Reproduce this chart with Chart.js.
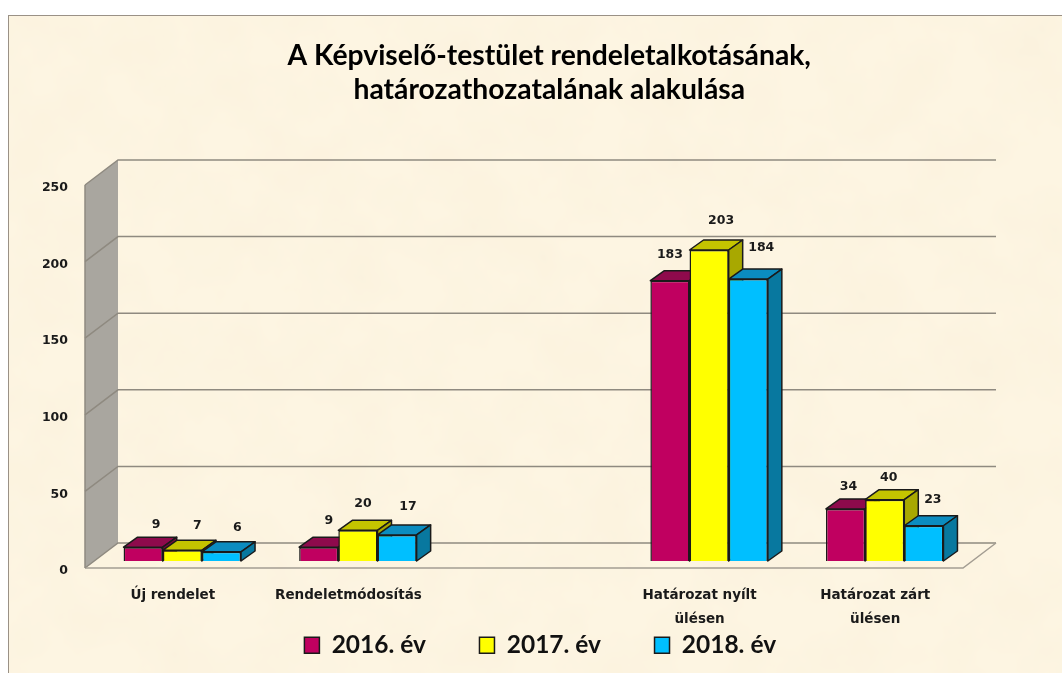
<!DOCTYPE html>
<html lang="hu">
<head>
<meta charset="utf-8">
<title>Képviselő-testület</title>
<script src="https://cdn.jsdelivr.net/npm/chart.js@4/dist/chart.umd.min.js"></script>
<style>
html, body { margin: 0; padding: 0; background: #fff; }
#paper {
	position: absolute; left: 8px; top: 15px; width: 1054px; height: 658px;
	box-sizing: border-box; border-left: 1px solid #9a9186; border-top: 1px solid #9a9186;
	background-color: #fdf5e2;
	overflow: hidden;
}
#paper svg { display: block; }
canvas { position: absolute; left: 0; top: 0; }
</style>
</head>
<body>
<div id="paper">
	<!-- parchment mottling -->
	<svg width="1054" height="658" xmlns="http://www.w3.org/2000/svg">
		<filter id="mottle" x="0" y="0" width="100%" height="100%">
			<feTurbulence type="fractalNoise" baseFrequency="0.016" numOctaves="4" seed="7"/>
			<feColorMatrix type="matrix" values="0 0 0 0 0.96  0 0 0 0 0.88  0 0 0 0 0.72  1.3 0 0 0 -0.42"/>
		</filter>
		<rect width="1054" height="658" filter="url(#mottle)"/>
	</svg>
</div>
<canvas id="myChart" width="1062" height="673"></canvas>
<script>
// chart data
var categories = ["Új rendelet", "Rendeletmódosítás", "", ["Határozat nyílt", "ülésen"], ["Határozat zárt", "ülésen"]];
var seriesNames = ["2016. év", "2017. év", "2018. év"];
var values2016 = [9, 9, null, 183, 34];
var values2017 = [7, 20, null, 203, 40];
var values2018 = [6, 17, null, 184, 23];
var yTicks = [0, 50, 100, 150, 200, 250];

var labelFont = '"DejaVu Sans", sans-serif';
var headFont = 'Lato, "Noto Sans", sans-serif';

// 3D look: floor offset of the front and back plane from the bar plane
var front = { x: -9.5, y: 7 };
var back = { x: 23.5, y: -18 };
var depth = { x: 14, y: 10 };
var topColors = ["#8e0a4c", "#c4c400", "#0b8cc0"];
var sideColors = ["#7a0840", "#a8a800", "#08789f"];

// small nudges of the value labels, per series and category
var nudge = [
	[[13, -22], [10, -26], null, [0, -26], [3, -22]],
	[[15, -25], [5, -27], null, [12, -29], [4, -22]],
	[[16, -24], [11, -28], null, [13, -31], [9, -26]]
];

function poly(ctx, pts, fill, stroke, lw) {
	ctx.beginPath();
	ctx.moveTo(pts[0][0], pts[0][1]);
	for (var i = 1; i < pts.length; i++) ctx.lineTo(pts[i][0], pts[i][1]);
	ctx.closePath();
	if (fill) { ctx.fillStyle = fill; ctx.fill(); }
	if (stroke) { ctx.strokeStyle = stroke; ctx.lineWidth = lw; ctx.stroke(); }
}

var box3d = {
	id: "box3d",
	afterLayout: function(chart) {
		// title and legend are not centred on the plot in the original
		chart.titleBlock.left += 63;
		chart.titleBlock.right += 63;
		chart.legend.left += 54;
		chart.legend.right += 54;
		chart.legend.top = 579.5;
		chart.legend.bottom = 673;
	},
	beforeDatasetsDraw: function(chart) {
		var ctx = chart.ctx, a = chart.chartArea, y = chart.scales.y;
		var left = a.left, right = a.right;
		ctx.save();
		var top = y.getPixelForValue(250), zero = y.getPixelForValue(0);
		// side wall
		poly(ctx, [
			[left + front.x, top + front.y], [left + back.x, top + back.y],
			[left + back.x, zero + back.y], [left + front.x, zero + front.y]
		], "#a9a69f");
		// grid lines on the back wall, running on to the side wall
		yTicks.forEach(function(t) {
			var p = y.getPixelForValue(t);
			ctx.beginPath();
			ctx.moveTo(left + front.x, p + front.y);
			ctx.lineTo(left + back.x, p + back.y);
			ctx.lineTo(right + back.x, p + back.y);
			ctx.strokeStyle = "#8f8a80";
			ctx.lineWidth = 1.5;
			ctx.stroke();
		});
		// floor outline
		ctx.beginPath();
		ctx.moveTo(left + front.x, zero + front.y);
		ctx.lineTo(right + front.x, zero + front.y);
		ctx.lineTo(right + back.x, zero + back.y);
		ctx.strokeStyle = "#a39d92";
		ctx.lineWidth = 1.5;
		ctx.stroke();
		ctx.beginPath();
		ctx.moveTo(left + front.x, top + front.y);
		ctx.lineTo(left + front.x, zero + front.y);
		ctx.strokeStyle = "#8f8a80";
		ctx.stroke();
		ctx.restore();

		// left to right: top and side of a bar, then its front from the library
		chart.data.datasets.forEach(function(ds, i) {
			var meta = chart.getDatasetMeta(i);
			ctx.save();
			ctx.lineJoin = "round";
			meta.data.forEach(function(el, n) {
				if (ds.data[n] == null) return;
				var l = el.x - el.width / 2, r = el.x + el.width / 2;
				poly(ctx, [[l, el.y], [l + depth.x, el.y - depth.y], [r + depth.x, el.y - depth.y], [r, el.y]],
					topColors[i], "#1a1a1a", 1.5);
				poly(ctx, [[r, el.y], [r + depth.x, el.y - depth.y], [r + depth.x, el.base - depth.y], [r, el.base]],
					sideColors[i], "#1a1a1a", 1.5);
			});
			ctx.restore();
			meta.controller.draw();
		});
	},
	beforeDatasetDraw: function() {
		return false; // already drawn in the order above
	},
	afterDatasetsDraw: function(chart) {
		// value labels
		var ctx = chart.ctx;
		ctx.save();
		ctx.font = "bold 12.5px " + labelFont;
		ctx.fillStyle = "#1a1a1a";
		ctx.textAlign = "center";
		ctx.textBaseline = "middle";
		chart.data.datasets.forEach(function(ds, i) {
			chart.getDatasetMeta(i).data.forEach(function(el, n) {
				if (ds.data[n] == null) return;
				ctx.fillText(ds.data[n], el.x + nudge[i][n][0], el.y + nudge[i][n][1]);
			});
		});
		ctx.restore();
	}
};

var ctx = document.getElementById("myChart");

var chart = new Chart(ctx, {
	type: "bar",
	data: {
		labels: categories,
		datasets: [
			{ label: seriesNames[0], data: values2016, backgroundColor: "#c00060" },
			{ label: seriesNames[1], data: values2017, backgroundColor: "#ffff00" },
			{ label: seriesNames[2], data: values2018, backgroundColor: "#00bfff" }
		]
	},
	options: {
		responsive: false,
		animation: false,
		layout: { padding: { left: 0, right: 89.5, top: 0, bottom: 0 } },
		datasets: {
			bar: {
				categoryPercentage: 0.669,
				barPercentage: 1,
				borderWidth: 1.5,
				borderColor: "#1a1a1a"
			}
		},
		scales: {
			x: {
				grid: { display: false },
				border: { display: false },
				afterFit: function(scale) { scale.height = 72; },
				ticks: {
					autoSkip: false,
					maxRotation: 0,
					padding: 14,
					labelOffset: -9.5,
					color: "#1a1a1a",
					font: { family: labelFont, size: 13.5, weight: "bold", lineHeight: 1.78 }
				}
			},
			y: {
				min: 0,
				max: 250,
				grid: { display: false },
				border: { display: false },
				afterFit: function(scale) { scale.width = 94.5; },
				ticks: {
					stepSize: 50,
					padding: 18.5,
					labelOffset: 10,
					color: "#1a1a1a",
					font: { family: labelFont, size: 12.5, weight: "bold" }
				}
			}
		},
		plugins: {
			title: {
				display: true,
				text: ["A Képviselő-testület rendeletalkotásának,", "határozathozatalának alakulása"],
				color: "#000",
				font: { family: headFont, size: 28.3, weight: "bold", lineHeight: "34px" },
				padding: { top: 39, bottom: 71 }
			},
			legend: {
				display: true,
				position: "bottom",
				maxHeight: 40,
				labels: {
					boxWidth: 15,
					boxHeight: 16,
					padding: 53.5,
					color: "#111",
					font: { family: headFont, size: 24.5, weight: "bold" }
				}
			},
			tooltip: { enabled: false }
		}
	},
	plugins: [box3d]
});
</script>
</body>
</html>
